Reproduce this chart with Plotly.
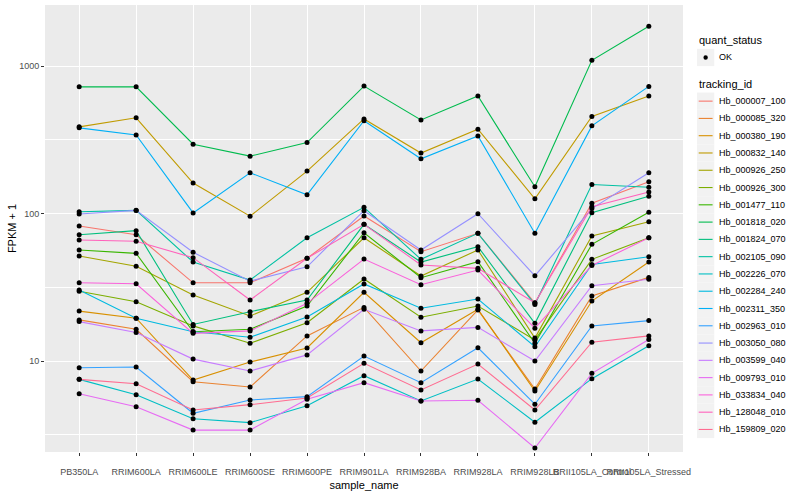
import plotly.graph_objects as go

samples = ["PB350LA", "RRIM600LA", "RRIM600LE", "RRIM600SE", "RRIM600PE", "RRIM901LA",
           "RRIM928BA", "RRIM928LA", "RRIM928LB", "RRII105LA_Control", "RRII105LA_Stressed"]

tracking_ids = ["Hb_000007_100", "Hb_000085_320", "Hb_000380_190", "Hb_000832_140", "Hb_000926_250",
                "Hb_000926_300", "Hb_001477_110", "Hb_001818_020", "Hb_001824_070", "Hb_002105_090",
                "Hb_002226_070", "Hb_002284_240", "Hb_002311_350", "Hb_002963_010", "Hb_003050_080",
                "Hb_003599_040", "Hb_009793_010", "Hb_033834_040", "Hb_128048_010", "Hb_159809_020"]

colors = ["#F8766D", "#EA8331", "#D89000", "#C09B00", "#A3A500", "#7CAE00", "#39B600", "#00BB4E",
          "#00BF7D", "#00C1A3", "#00BFC4", "#00BAE0", "#00B0F6", "#35A2FF", "#9590FF", "#C77CFF",
          "#E76BF3", "#FA62DB", "#FF62BC", "#FF6C91"]

# FPKM + 1 values, one list per tracking_id, in sample order
Hb_000007_100 = [82.3, 71.8, 33.9, 33.9, 49.7, 96.2, 55.1, 73.4, 24.7, 117.3, 164.3]
Hb_000085_320 = [19.0, 16.4, 7.24, 6.66, 14.8, 23.1, 8.55, 22.2, 6.46, 27.6, 36.9]
Hb_000380_190 = [21.8, 19.5, 7.43, 9.84, 12.25, 29.2, 13.3, 22.4, 6.26, 25.5, 46.9]
Hb_000832_140 = [387, 446, 161, 95.9, 194, 438, 257, 373, 126, 455, 626]
Hb_000926_250 = [51.5, 43.9, 28.0, 20.2, 29.2, 68.5, 37.7, 56.6, 14.3, 70.4, 88.0]
Hb_000926_300 = [29.7, 25.2, 17.3, 13.2, 18.2, 36.0, 19.8, 23.6, 13.9, 48.9, 68.5]
Hb_001477_110 = [56.6, 53.7, 15.8, 16.4, 23.6, 74.1, 36.7, 47.1, 13.2, 61.8, 101.9]
Hb_001818_020 = [723, 723, 295, 245, 303, 731, 431, 626, 152, 1093, 1860]
Hb_001824_070 = [71.8, 76.5, 17.7, 21.6, 25.9, 84.5, 46.9, 59.6, 18.0, 101.3, 130.8]
Hb_002105_090 = [102.8, 105.1, 46.9, 35.4, 68.5, 110.2, 48.9, 73.4, 24.2, 157.3, 150.8]
Hb_002226_070 = [7.51, 5.91, 4.06, 3.82, 4.98, 7.95, 5.36, 7.55, 3.84, 7.59, 12.7]
Hb_002284_240 = [30.3, 19.5, 15.8, 14.5, 19.9, 33.3, 22.8, 26.3, 12.5, 45.2, 50.9]
Hb_002311_350 = [381, 341, 101, 189, 134, 426, 235, 336, 73.6, 393, 728]
Hb_002963_010 = [9.01, 9.11, 4.42, 5.44, 5.73, 10.8, 7.13, 12.3, 5.09, 17.3, 18.8]
Hb_003050_080 = [99.2, 105, 54.6, 34.8, 43.5, 104.5, 56.6, 99.7, 37.8, 108, 189]
Hb_003599_040 = [18.5, 15.6, 10.3, 8.55, 11.0, 22.4, 16.0, 16.9, 10.0, 32.4, 35.8]
Hb_009793_010 = [6.0, 4.90, 3.40, 3.40, 5.50, 7.13, 5.36, 5.42, 2.57, 8.25, 14.0]
Hb_033834_040 = [33.9, 33.4, 15.4, 16.0, 24.6, 49.1, 32.9, 41.4, 16.7, 44.5, 68.5]
Hb_128048_010 = [66.1, 64.8, 50.2, 25.9, 49.7, 84.5, 44.8, 42.5, 24.8, 111.2, 140.0]
Hb_159809_020 = [7.51, 7.02, 4.65, 5.06, 5.61, 9.65, 6.36, 9.54, 4.65, 13.4, 14.8]

series = [Hb_000007_100, Hb_000085_320, Hb_000380_190, Hb_000832_140, Hb_000926_250,
          Hb_000926_300, Hb_001477_110, Hb_001818_020, Hb_001824_070, Hb_002105_090,
          Hb_002226_070, Hb_002284_240, Hb_002311_350, Hb_002963_010, Hb_003050_080,
          Hb_003599_040, Hb_009793_010, Hb_033834_040, Hb_128048_010, Hb_159809_020]

quant_status = ["OK"]
y_ticks = [10, 100, 1000]
y_tick_labels = ["10", "100", "1000"]
y_minor = [3.1623, 31.623, 316.23, 3162.3]

FONT = "Liberation Sans, Arial, sans-serif"
W, H = 800, 500
ML, MR, MT, MB = 45, 117, 5, 48
PW, PH = W - ML - MR, H - MT - MB


def px(xp):
    return (xp - ML) / PW


def py(yp):
    return (H - MB - yp) / PH


fig = go.Figure()

for name, vals, col in zip(tracking_ids, series, colors):
    fig.add_trace(go.Scatter(
        x=samples, y=vals, mode="lines", name=name,
        line=dict(color=col, width=1.1), showlegend=False,
    ))

all_x, all_y = [], []
for vals in series:
    all_x += samples
    all_y += vals
fig.add_trace(go.Scatter(
    x=all_x, y=all_y, mode="markers", name=quant_status[0],
    marker=dict(color="black", size=5), showlegend=False,
))

# ---- ggplot-like legends (built from the names / colours above) ----
shapes, annotations = [], []
KEY = 17.28
kx0 = 697.0
tx = 716.5

annotations.append(dict(text="quant_status", x=px(kx0), y=py(40.5), xref="paper", yref="paper",
                        xanchor="left", yanchor="middle", showarrow=False,
                        font=dict(size=11, color="black", family=FONT)))
ok_top = 48.8
shapes.append(dict(type="rect", xref="paper", yref="paper", x0=px(kx0), x1=px(kx0 + KEY),
                   y0=py(ok_top), y1=py(ok_top + KEY), fillcolor="#F2F2F2", line=dict(width=0)))
shapes.append(dict(type="circle", xref="paper", yref="paper",
                   x0=px(kx0 + KEY / 2 - 2.2), x1=px(kx0 + KEY / 2 + 2.2),
                   y0=py(ok_top + KEY / 2 - 2.2), y1=py(ok_top + KEY / 2 + 2.2),
                   fillcolor="black", line=dict(width=0)))
annotations.append(dict(text=quant_status[0], x=px(tx), y=py(ok_top + KEY / 2), xref="paper", yref="paper",
                        xanchor="left", yanchor="middle", showarrow=False,
                        font=dict(size=9, color="black", family=FONT)))

annotations.append(dict(text="tracking_id", x=px(kx0), y=py(84), xref="paper", yref="paper",
                        xanchor="left", yanchor="middle", showarrow=False,
                        font=dict(size=11, color="black", family=FONT)))
top0 = 92.5
for i, (name, col) in enumerate(zip(tracking_ids, colors)):
    t = top0 + i * KEY
    shapes.append(dict(type="rect", xref="paper", yref="paper", x0=px(kx0), x1=px(kx0 + KEY),
                       y0=py(t), y1=py(t + KEY), fillcolor="#F2F2F2", line=dict(width=0)))
    shapes.append(dict(type="line", xref="paper", yref="paper", x0=px(kx0 + 1.7), x1=px(kx0 + KEY - 1.7),
                       y0=py(t + KEY / 2), y1=py(t + KEY / 2), line=dict(color=col, width=1.1)))
    annotations.append(dict(text=name, x=px(tx), y=py(t + KEY / 2), xref="paper", yref="paper",
                            xanchor="left", yanchor="middle", showarrow=False,
                            font=dict(size=9, color="black", family=FONT)))

fig.update_layout(
    width=W, height=H,
    margin=dict(l=ML, r=MR, t=MT, b=MB, autoexpand=False),
    paper_bgcolor="white", plot_bgcolor="#EBEBEB",
    font=dict(family=FONT, color="#4D4D4D", size=9),
    showlegend=False,
    shapes=shapes, annotations=annotations,
    xaxis=dict(
        type="category", categoryorder="array", categoryarray=samples,
        range=[-0.6, 10.6], showgrid=True, gridcolor="white", gridwidth=1.1,
        tickangle=0, ticks="outside", ticklen=3, tickcolor="#333333", tickwidth=1,
        ticklabelstandoff=8,
        tickfont=dict(size=9, color="#4D4D4D"), zeroline=False, showline=False,
        title=dict(text="sample_name", font=dict(size=11, color="black"), standoff=5),
    ),
    yaxis=dict(
        type="log", range=[0.383, 3.414],
        tickvals=y_ticks, ticktext=y_tick_labels,
        showgrid=True, gridcolor="white", gridwidth=1.1,
        ticks="outside", ticklen=3, tickcolor="#333333", tickwidth=1,
        ticklabelstandoff=0,
        tickfont=dict(size=9, color="#4D4D4D"), zeroline=False, showline=False,
        minor=dict(tickvals=y_minor, showgrid=True, gridcolor="white", gridwidth=0.5, ticks=""),
        title=dict(text="FPKM + 1", font=dict(size=11, color="black"), standoff=0),
    ),
)

fig.write_html("out.html", config={"displayModeBar": False},
               post_script="document.body.style.margin='0';document.body.style.padding='0';")
